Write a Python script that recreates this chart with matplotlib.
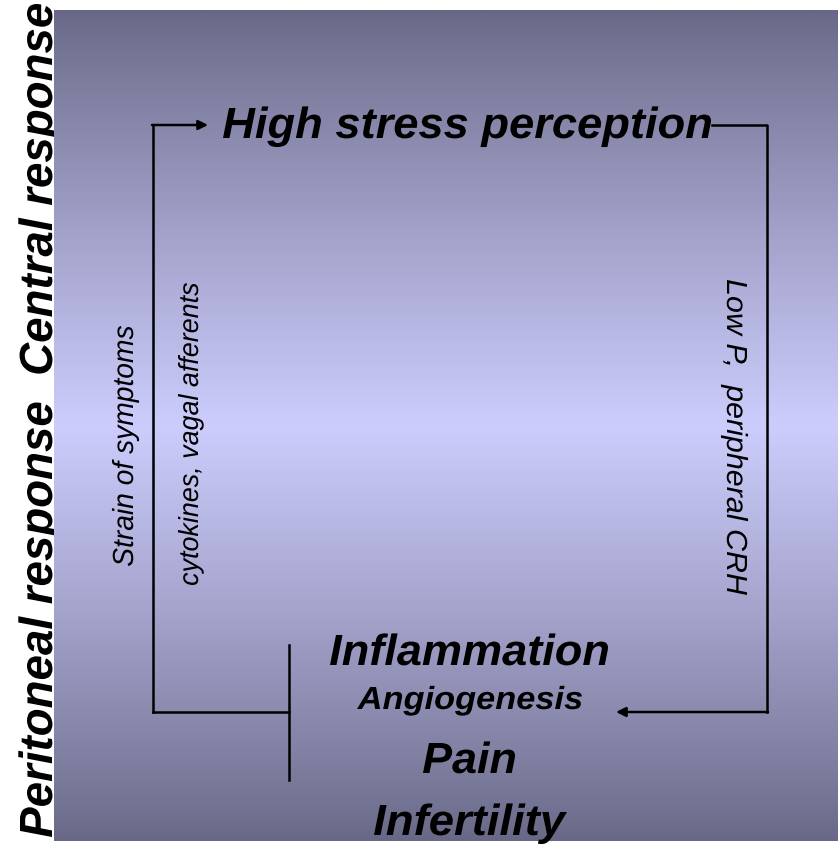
import matplotlib
matplotlib.use("Agg")
import matplotlib.pyplot as plt
import numpy as np
from matplotlib.textpath import TextPath
from matplotlib.font_manager import FontProperties
from matplotlib.patches import PathPatch
from matplotlib.transforms import Affine2D

# ---- content ----
side_label = "Peritoneal response  Central response"
top_label = "High stress perception"
left_labels = ["Strain of symptoms", "cytokines, vagal afferents"]
right_label = "Low P,  peripheral CRH"
outcome_labels = ["Inflammation", "Angiogenesis", "Pain", "Infertility"]

W, H = 838, 851
fig = plt.figure(figsize=(W / 100, H / 100), dpi=100)
ax = fig.add_axes([0, 0, 1, 1])
ax.set_xlim(0, W)
ax.set_ylim(H, 0)
ax.axis("off")

FP_BOLD = FontProperties(family="Liberation Sans", weight="bold", style="italic")
FP_REG = FontProperties(family="Liberation Sans", style="italic")


def ptext(s, start, length, cap, rot, fp, zorder=3):
    """Draw text as a path; start = baseline start point of ink (pixel coords)."""
    tp = TextPath((0, 0), s, size=100, prop=fp)
    capref = TextPath((0, 0), "H", size=100, prop=fp).get_extents().y1
    bb = tp.get_extents()
    sy = cap / capref
    sx = length / bb.width
    A = Affine2D().translate(-bb.x0, 0).scale(sx, sy)
    if rot == 0:
        M = np.array([[1, 0, 0], [0, -1, 0], [0, 0, 1]], float)
    elif rot == 90:
        M = np.array([[0, -1, 0], [-1, 0, 0], [0, 0, 1]], float)
    else:
        M = np.array([[0, 1, 0], [1, 0, 0], [0, 0, 1]], float)
    A = A + Affine2D(M) + Affine2D().translate(*start)
    path = A.transform_path(tp)
    ax.add_patch(PathPatch(path, fc="black", ec="none", lw=0, zorder=zorder))


# gradient background
top = np.array([104, 104, 134]) / 255
mid = np.array([205, 205, 253]) / 255
t = np.linspace(0, 1, 400)
w = 1 - np.abs(2 * t - 1)
w = w ** 0.9
grad = top[None, :] * (1 - w[:, None]) + mid[None, :] * w[:, None]
img = np.repeat(grad[:, None, :], 2, axis=1)
ax.imshow(img, extent=(54, W, 841, 10), aspect="auto", interpolation="bilinear", zorder=1)

# side label (descenders hidden behind background)
ptext(side_label, (52, 837), 833, 32, 90, FP_BOLD, zorder=0.5)

lw = 1.8
ax.plot([153, 153], [712, 125], color="black", lw=lw, zorder=2)
ax.annotate("", xy=(208, 125), xytext=(152, 125),
            arrowprops=dict(arrowstyle="-|>", color="black", lw=lw, mutation_scale=14,
                            shrinkA=0, shrinkB=0), zorder=2)
ax.plot([712, 767, 767], [125, 125, 712], color="black", lw=lw, zorder=2)
ax.annotate("", xy=(616, 712), xytext=(768, 712),
            arrowprops=dict(arrowstyle="-|>", color="black", lw=lw, mutation_scale=14,
                            shrinkA=0, shrinkB=0), zorder=2)
ax.plot([153, 289], [712, 712], color="black", lw=lw, zorder=2)
ax.plot([289, 289], [645, 780], color="black", lw=lw, zorder=2)

ptext(top_label, (223, 138), 488, 30, 0, FP_BOLD)

ptext(left_labels[0], (133, 566), 240, 20, 90, FP_REG)
ptext(left_labels[1], (198, 585), 302, 19, 90, FP_REG)
ptext(right_label, (727, 280), 315, 20, -90, FP_REG)

ptext(outcome_labels[0], (330, 665), 278, 30, 0, FP_BOLD)
ptext(outcome_labels[1], (357, 709), 225, 22, 0, FP_BOLD)
ptext(outcome_labels[2], (423, 773), 92, 30, 0, FP_BOLD)
ptext(outcome_labels[3], (374, 835), 193, 30, 0, FP_BOLD)

fig.savefig("out.png", dpi=100)
